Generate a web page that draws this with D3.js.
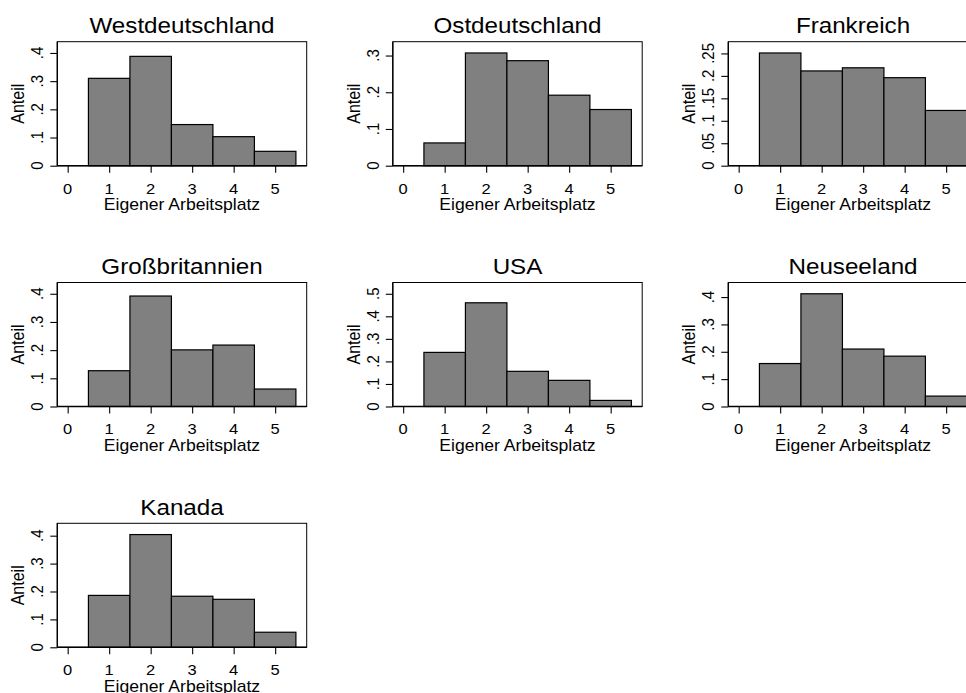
<!DOCTYPE html>
<html>
<head>
<meta charset="utf-8">
<script src="https://cdn.jsdelivr.net/npm/d3@7"></script>
<style>
  html, body { margin: 0; padding: 0; background: #ffffff; }
  svg { display: block; font-family: "Liberation Sans", Arial, Helvetica, sans-serif; }
</style>
</head>
<body>
<svg id="chart" width="966" height="693"></svg>
<script>
// Response categories of "Eigener Arbeitsplatz" (0–5)
const categories = [0, 1, 2, 3, 4, 5];

// Share of respondents per category, one array per country
const westdeutschland = [0, 0.310, 0.388, 0.146, 0.103, 0.051];
const ostdeutschland  = [0, 0.062, 0.307, 0.286, 0.192, 0.153];
const frankreich      = [0, 0.251, 0.211, 0.218, 0.196, 0.123];
const grossbritannien = [0, 0.127, 0.392, 0.201, 0.218, 0.062];
const usa             = [0, 0.240, 0.460, 0.156, 0.116, 0.027];
const neuseeland      = [0, 0.157, 0.412, 0.210, 0.184, 0.038];
const kanada          = [0, 0.186, 0.404, 0.183, 0.172, 0.054];

// Panel titles in drawing order
const countries = ["Westdeutschland", "Ostdeutschland", "Frankreich",
                   "Großbritannien", "USA", "Neuseeland", "Kanada"];
const seriesList = [westdeutschland, ostdeutschland, frankreich,
                    grossbritannien, usa, neuseeland, kanada];

// y tick values per panel
const yTicksWest  = [0, 0.1, 0.2, 0.3, 0.4];
const yTicksOst   = [0, 0.1, 0.2, 0.3];
const yTicksFra   = [0, 0.05, 0.1, 0.15, 0.2, 0.25];
const yTicksGB    = [0, 0.1, 0.2, 0.3, 0.4];
const yTicksUSA   = [0, 0.1, 0.2, 0.3, 0.4, 0.5];
const yTicksNZ    = [0, 0.1, 0.2, 0.3, 0.4];
const yTicksKan   = [0, 0.1, 0.2, 0.3, 0.4];
const yTicksList = [yTicksWest, yTicksOst, yTicksFra, yTicksGB, yTicksUSA, yTicksNZ, yTicksKan];

const xTitle = "Eigener Arbeitsplatz";
const yTitle = "Anteil";

// ---- layout ----
const svg = d3.select("#chart");
const plotW = 249.4, plotH = 124;
const colX0 = 57.3, colStep = 335.5;
const rowY0 = 41.7, rowStep = 240.8;
const stretch = 1.1;           // glyphs are slightly wide
const barFill = "#808080";

// Stata-like tick label: drop leading zero
const fmt = v => v === 0 ? "0" : d3.format("")(+v.toFixed(2)).replace(/^0\./, ".");

countries.forEach((name, i) => {
  const col = i % 3, row = Math.floor(i / 3);
  const left = colX0 + col * colStep;
  const top = rowY0 + row * rowStep;
  const bottom = top + plotH;
  const values = seriesList[i];
  const ticks = yTicksList[i];

  const x = d3.scaleLinear().domain([-0.25, 5.76]).range([left, left + plotW]);
  const yMax = 1.1 * Math.max(d3.max(values), d3.max(ticks));
  const y = d3.scaleLinear().domain([0, yMax]).range([bottom, top]);

  const g = svg.append("g");

  // plot region frame
  g.append("rect")
    .attr("x", left).attr("y", top)
    .attr("width", plotW).attr("height", plotH)
    .attr("fill", "none").attr("stroke", "#000").attr("stroke-width", 1);

  // histogram bars (width 1, centred on each category)
  g.selectAll("rect.bar")
    .data(categories.map((c, k) => ({ c, v: values[k] })).filter(d => d.v > 0))
    .join("rect")
    .attr("class", "bar")
    .attr("x", d => x(d.c - 0.5))
    .attr("width", d => x(d.c + 0.5) - x(d.c - 0.5))
    .attr("y", d => y(d.v))
    .attr("height", d => y(0) - y(d.v))
    .attr("fill", barFill)
    .attr("stroke", "#000")
    .attr("stroke-width", 1.2);

  // x axis
  const xAxis = d3.axisBottom(x).tickValues(categories).tickSize(7).tickFormat("");
  const xg = g.append("g").attr("transform", `translate(0,${bottom})`).call(xAxis);
  xg.select(".domain").attr("d", `M${left},0H${left + plotW}`).attr("stroke-width", 1.6);
  xg.selectAll(".tick line").attr("stroke-width", 1.1);

  // y axis
  const yAxis = d3.axisLeft(y).tickValues(ticks).tickSize(7).tickFormat("");
  const yg = g.append("g").attr("transform", `translate(${left},0)`).call(yAxis);
  yg.select(".domain").attr("d", `M0,${top}V${bottom}`).attr("stroke-width", 1.3);
  yg.selectAll(".tick line").attr("stroke-width", 1.1);

  // x tick labels
  categories.forEach(c => {
    g.append("text")
      .attr("transform", `translate(${x(c)},${bottom + 27.8}) scale(${stretch},1)`)
      .attr("text-anchor", "middle")
      .attr("font-size", 15)
      .attr("fill", "#000")
      .text(c);
  });

  // y tick labels (rotated)
  ticks.forEach(t => {
    g.append("text")
      .attr("transform", `translate(${left - 14},${y(t)}) scale(${stretch},1) rotate(-90)`)
      .attr("text-anchor", "middle")
      .attr("font-size", 15)
      .attr("fill", "#000")
      .text(fmt(t));
  });

  // axis titles
  g.append("text")
    .attr("transform", `translate(${left + plotW / 2},${bottom + 44.3}) scale(${stretch},1)`)
    .attr("text-anchor", "middle")
    .attr("font-size", 16)
    .attr("fill", "#000")
    .text(xTitle);

  g.append("text")
    .attr("transform", `translate(${left - 33.3},${top + plotH / 2}) scale(${stretch},1) rotate(-90)`)
    .attr("text-anchor", "middle")
    .attr("font-size", 16)
    .attr("fill", "#000")
    .text(yTitle);

  // panel title
  g.append("text")
    .attr("transform", `translate(${left + plotW / 2},${top - 8.4}) scale(${stretch},1)`)
    .attr("text-anchor", "middle")
    .attr("font-size", 22)
    .attr("fill", "#000")
    .text(name);
});
</script>
</body>
</html>
